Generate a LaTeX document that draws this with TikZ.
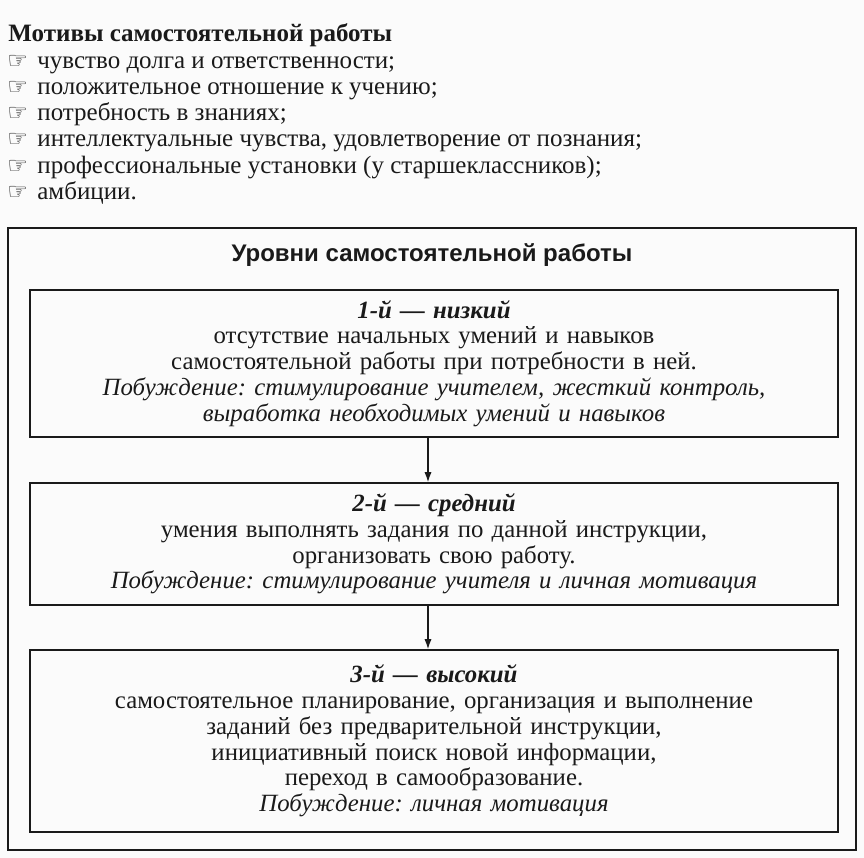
\documentclass[tikz,border=0pt]{standalone}
\usepackage{fontspec}
\setmainfont{Liberation Serif}
\setsansfont{Liberation Sans}
\newfontfamily\symfont{DejaVu Sans}
\usetikzlibrary{arrows.meta,positioning}
\definecolor{Ink}{HTML}{1A1A1A}
\definecolor{Paper}{HTML}{FBFBFB}
\frenchspacing
\begin{document}
\begin{tikzpicture}[x=0.5pt,y=-0.5pt,
  arr/.style={-{Latex[length=5pt,width=3.6pt]},line width=.6pt,color=Ink},
  lvl/.style={rectangle,draw=Ink,line width=.9pt,minimum width=404pt,
    text width=396pt,align=center,text=Ink,
    font=\fontsize{12.4}{12.9}\selectfont},
  item/.style={anchor=base west,inner sep=0pt,text=Ink,
    font=\fontsize{12.5}{13}\selectfont}]
  \useasboundingbox[fill=Paper] (0,0) rectangle (864,858);
  % motives
  \node[item,font=\fontsize{12.5}{13}\selectfont\bfseries] (mot) at (8,41)
    {Мотивы самостоятельной работы};
  \foreach \txt [count=\i] in {{чувство долга и ответственности;},
      {положительное отношение к учению;},{потребность в знаниях;},
      {интеллектуальные чувства, удовлетворение от познания;},
      {профессиональные установки (у старшеклассников);},{амбиции.}}{
    \node[item,font=\symfont\bfseries\fontsize{11.5}{11.5}\selectfont] (b\i)
      at (7,42+26.2*\i) {☞};
    \node[item] (m\i) at (37,42+26.2*\i) {\txt};
  }
  % levels
  \node[draw=Ink,line width=.9pt,minimum width=424pt,minimum height=311pt,
    inner sep=0pt] (frame) at (432,539) {};
  \node[font=\sffamily\bfseries\fontsize{12}{12.5}\selectfont,text=Ink] (head)
    at (432,255) {Уровни самостоятельной работы};
  \node[lvl,minimum height=73.5pt] (low) at (434,363.5)
    {\textbf{\textit{1-й — низкий}}\\
     отсутствие начальных умений и навыков\\
     самостоятельной работы при потребности в ней.\\
     \textit{Побуждение: стимулирование учителем, жесткий контроль,}\\
     \textit{выработка необходимых умений и навыков}};
  \node[lvl,minimum height=61pt] (mid) at (434,544)
    {\textbf{\textit{2-й — средний}}\\
     умения выполнять задания по данной инструкции,\\
     организовать свою работу.\\
     \textit{Побуждение: стимулирование учителя и личная мотивация}};
  \node[lvl,minimum height=91pt] (high) at (434,741)
    {\textbf{\textit{3-й — высокий}}\\
     самостоятельное планирование, организация и выполнение\\
     заданий без предварительной инструкции,\\
     инициативный поиск новой информации,\\
     переход в самообразование.\\
     \textit{Побуждение: личная мотивация}};
  \draw[arr] ([xshift=-3pt]low.south) -- ([xshift=-3pt]mid.north);
  \draw[arr] ([xshift=-3pt]mid.south) -- ([xshift=-3pt]high.north);
\end{tikzpicture}
\end{document}
